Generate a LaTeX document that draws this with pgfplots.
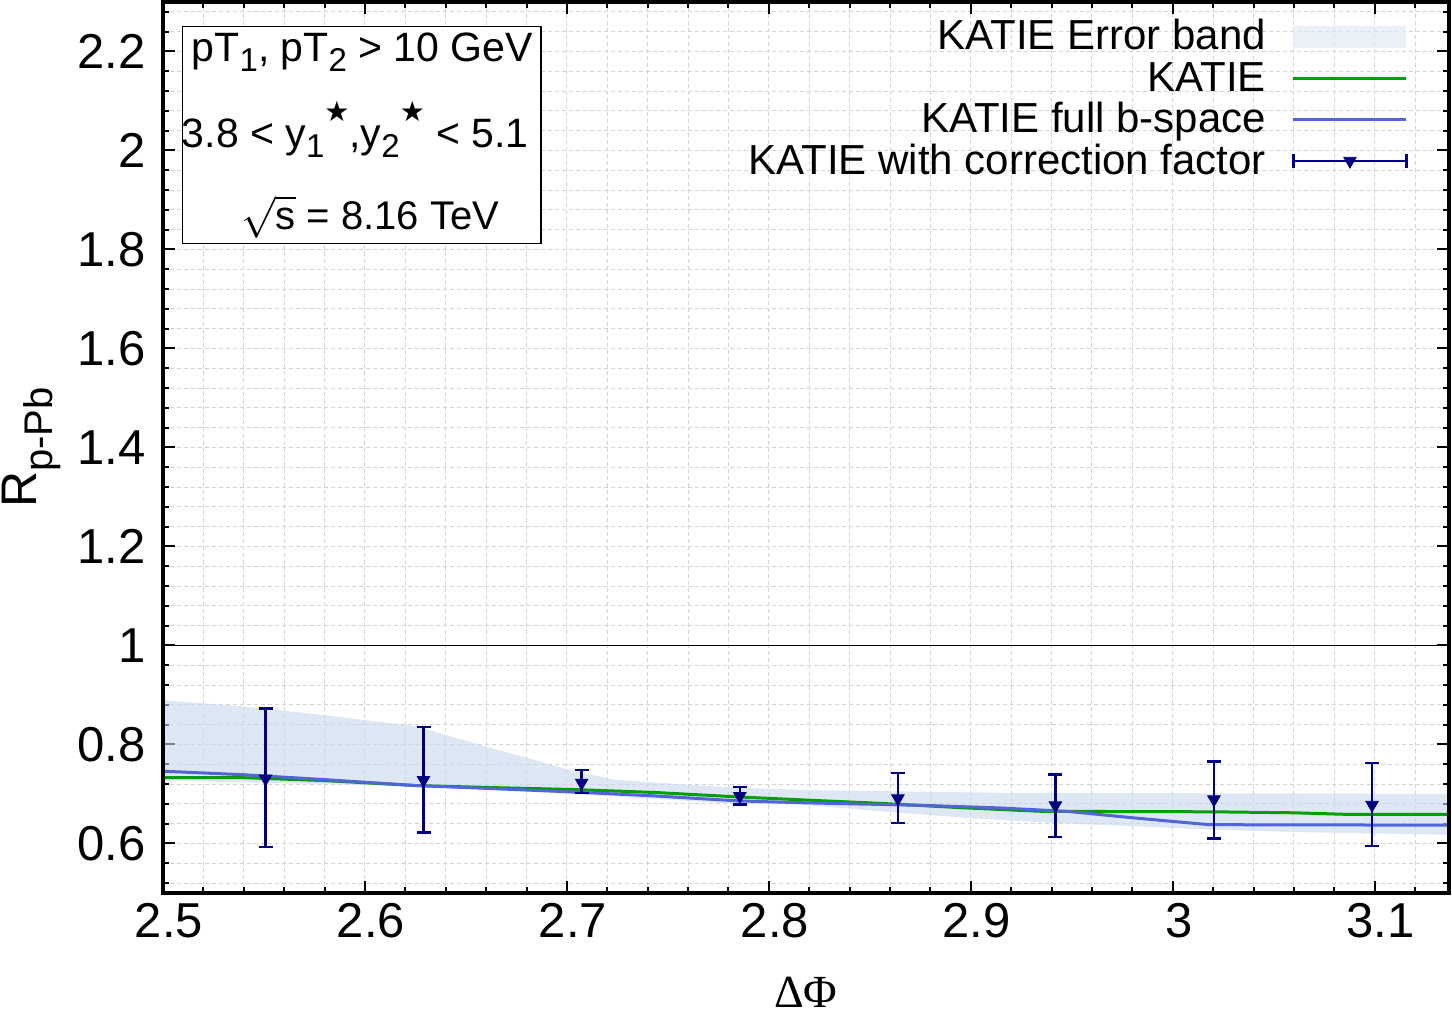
\documentclass[border=0pt]{standalone}
\usepackage{pgfplots}
\pgfplotsset{compat=1.18}
\usepackage{fontspec}
\setmainfont{Liberation Sans}
\newfontfamily\serif{Liberation Serif}
\newfontfamily\dejavu{DejaVu Sans}
\definecolor{bandc}{RGB}{198,217,237}
\definecolor{bandl}{RGB}{221,232,244}
\definecolor{katg}{RGB}{0,158,0}
\definecolor{katb}{RGB}{82,100,214}
\definecolor{navyc}{RGB}{0,0,128}
\definecolor{gridc}{RGB}{212,212,212}
\newcommand{\sub}[1]{\raisebox{-5pt}{\fontsize{16.5}{16.5}\selectfont #1}}
\newcommand{\str}{\raisebox{13pt}{\fontsize{14}{14}\selectfont\dejavu ★}}

\pgfplotstableread{
x y ep em
2.5508 0.731 0.142 0.1385
2.6290 0.728 0.107 0.106
2.7073 0.7226 0.0254 0.0209
2.7856 0.6956 0.0184 0.0166
2.8639 0.691 0.051 0.049
2.9419 0.677 0.062 0.064
3.0204 0.689 0.077 0.079
3.0987 0.678 0.084 0.083
}\errdata

\begin{document}
\begin{tikzpicture}
\useasboundingbox (-81.5pt,-61pt) rectangle (644.5pt,446.5pt);
\begin{axis}[
 scale only axis, width=643pt, height=445.5pt,
 xmin=2.5, xmax=3.1368, ymin=0.5, ymax=2.3,
 xtick={2.5,2.6,2.7,2.8,2.9,3.0,3.1},
 ytick={0.6,0.8,1.0,1.2,1.4,1.6,1.8,2.0,2.2},
 minor xtick={2.52,2.54,2.56,2.58,2.62,2.64,2.66,2.68,2.72,2.74,2.76,2.78,2.82,2.84,2.86,2.88,2.92,2.94,2.96,2.98,3.02,3.04,3.06,3.08,3.12},
 minor ytick={0.52,0.56,0.64,0.68,0.72,0.76,0.84,0.88,0.92,0.96,1.04,1.08,1.12,1.16,1.24,1.28,1.32,1.36,1.44,1.48,1.52,1.56,1.64,1.68,1.72,1.76,1.84,1.88,1.92,1.96,2.04,2.08,2.12,2.16,2.24,2.28},
 grid=both,
 major grid style={gridc, line width=0.5pt, dash pattern=on 2pt off 1.5pt},
 minor grid style={gridc, line width=0.5pt, dash pattern=on 2pt off 1.5pt},
 axis line style={line width=2pt},
 tick style={line width=1pt, black},
 major tick length=6pt, minor tick length=3pt,
 tick align=inside,
 /pgf/number format/assume math mode=true,
 ticklabel style={font=\fontsize{24.5}{29}\selectfont},
 xticklabel style={anchor=north, inner sep=0pt, yshift=-5pt, xshift=3pt},
 yticklabel style={anchor=east, inner sep=0pt, xshift=-8.5pt},
 xlabel={\serif ΔΦ},
 xlabel style={at={(axis description cs:0.5,-0.128)}, anchor=base, inner sep=0pt, font=\fontsize{23}{27}\selectfont},
 ylabel={R\raisebox{-8pt}{\fontsize{20}{24}\selectfont p-Pb}},
 ylabel style={at={(axis description cs:-0.0788,0.5)}, anchor=south, inner sep=0pt, font=\fontsize{25}{30}\selectfont},
 legend style={at={(rel axis cs:0.9681,0.9843)}, anchor=north east, draw=none, fill=none, inner sep=0pt, outer sep=0pt, font=\fontsize{21}{25}\selectfont, row sep=0pt, column sep=13pt, nodes={inner sep=0pt, text height=17pt, text depth=3.7pt}},
 legend cell align=right, legend plot pos=right,
]
\addplot[fill=bandc, fill opacity=0.6, draw=none,
  legend image code/.code={\fill[bandl] (0pt,-5.5pt) rectangle (56.5pt,5.5pt);}]
 coordinates {
 (2.5,0.8895)(2.5394,0.877)(2.5804,0.859)(2.6253,0.837)(2.6417,0.817)(2.6624,0.793)
 (2.6827,0.770)(2.7034,0.746)(2.7237,0.729)(2.744,0.723)(2.785,0.7125)(2.8196,0.708)
 (2.8517,0.706)(2.9134,0.7025)(3.0612,0.701)(3.1368,0.700)
 (3.1368,0.6175)(3.0612,0.623)(3.0202,0.628)(2.9791,0.635)(2.9376,0.642)(2.8967,0.652)
 (2.8557,0.665)(2.8146,0.679)(2.785,0.680)(2.7034,0.700)(2.6253,0.716)(2.5,0.727)
 } -- cycle;
\addlegendentry{KATIE Error band}
\addplot[katg, line width=1.5pt,
  legend image code/.code={\draw[katg, line width=1.5pt] (0pt,0pt) -- (56.5pt,0pt);}]
 coordinates {
 (2.5,0.733)(2.5394,0.733)(2.5804,0.727)(2.6253,0.717)(2.6624,0.713)(2.7034,0.709)
 (2.744,0.703)(2.785,0.694)(2.8196,0.6875)(2.8557,0.681)(2.8967,0.672)(2.935,0.665)
 (3.02,0.664)(3.06,0.662)(3.085,0.659)(3.1368,0.659)
 };
\addlegendentry{KATIE}
\addplot[katb, line width=1.5pt,
  legend image code/.code={\draw[katb, line width=1.5pt] (0pt,0pt) -- (56.5pt,0pt);}]
 coordinates {
 (2.5,0.746)(2.5394,0.739)(2.5804,0.729)(2.6253,0.717)(2.6624,0.711)(2.7034,0.704)
 (2.744,0.696)(2.785,0.686)(2.8196,0.682)(2.8765,0.677)(2.9134,0.672)(2.9475,0.665)
 (2.98,0.652)(3.018,0.638)(3.1368,0.637)
 };
\addlegendentry{KATIE full b-space}
\addplot[navyc, only marks, mark=triangle*, mark size=3.6pt,
  mark options={rotate=180, fill=navyc},
  error bars/.cd, y dir=both, y explicit,
  error bar style={line width=1.2pt, navyc},
  error mark options={rotate=90, mark size=3.5pt, line width=1.2pt, navyc},
  /pgfplots/legend image code/.code={%
    \draw[navyc, line width=1.2pt] (0pt,0pt) -- (56.5pt,0pt) (0pt,-3.5pt) -- (0pt,3.5pt) (56.5pt,-3.5pt) -- (56.5pt,3.5pt);
    \draw[navyc, mark=triangle*, mark size=3.6pt, mark options={rotate=180, fill=navyc}] plot coordinates {(28.25pt,0pt)};}]
 table[x=x, y=y, y error plus=ep, y error minus=em] {\errdata};
\addlegendentry{KATIE with correction factor}
\addplot[black, line width=0.5pt, forget plot] coordinates {(2.5,1)(3.1368,1)};
\coordinate (bA) at (axis cs:2.5097,2.2505);
\coordinate (bB) at (axis cs:2.6871,1.812);
\coordinate (t1) at (axis cs:2.5987,2.1798);
\coordinate (t2) at (axis cs:2.5952,2.006);
\coordinate (t3) at (axis cs:2.6026,1.8404);
\coordinate (aSW) at (rel axis cs:0,0);
\coordinate (aNE) at (rel axis cs:1,1);
\end{axis}
\draw[line width=2pt] (aSW) rectangle (aNE);
\draw[fill=white, line width=0.8pt] (bA) rectangle (bB);
\node[anchor=base, inner sep=0pt, font=\fontsize{20.5}{24}\selectfont] at (t1) {pT\sub{1}, pT\sub{2} > 10 GeV};
\node[anchor=base, inner sep=0pt, font=\fontsize{20.5}{24}\selectfont] at (t2) {3.8 < y\sub{1}\str,y\sub{2}\str{} < 5.1};
\node[anchor=base, inner sep=0pt, font=\fontsize{20}{24}\selectfont] at (t3) {$\sqrt{\mbox{s}}$ = 8.16 TeV};
\end{tikzpicture}
\end{document}
